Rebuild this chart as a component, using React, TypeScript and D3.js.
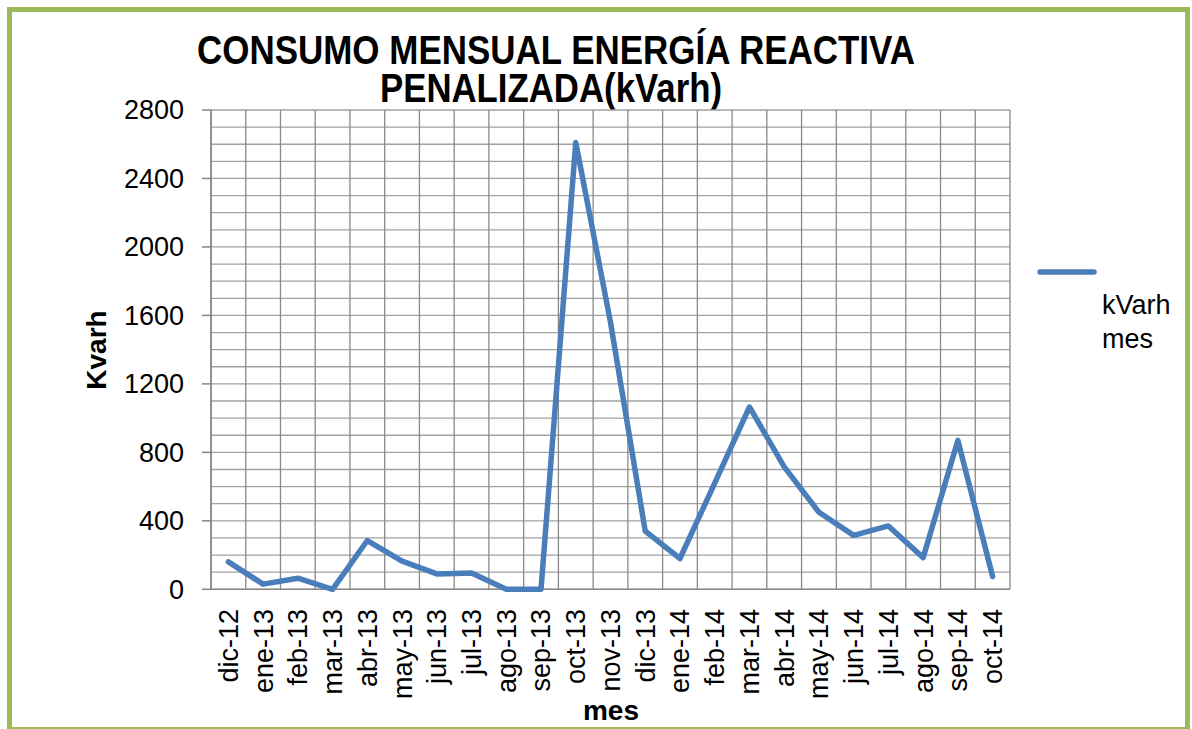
import React from "react";
import * as d3 from "d3";

const months = [
  "dic-12", "ene-13", "feb-13", "mar-13", "abr-13", "may-13", "jun-13", "jul-13",
  "ago-13", "sep-13", "oct-13", "nov-13", "dic-13", "ene-14", "feb-14", "mar-14",
  "abr-14", "may-14", "jun-14", "jul-14", "ago-14", "sep-14", "oct-14",
];
const kvarh = [
  160, 30, 65, 0, 285, 165, 90, 95, 0, 0, 2610, 1560, 340, 180, 620, 1065,
  715, 450, 315, 370, 185, 870, 75,
];
const yTicks = [0, 400, 800, 1200, 1600, 2000, 2400, 2800];
const titleLines = ["CONSUMO MENSUAL ENERGÍA REACTIVA", "PENALIZADA(kVarh)"];
const legendLines = ["kVarh", "mes"];

const FONT = "'Liberation Sans', Arial, Helvetica, sans-serif";

export default function App() {
  const W = 1192;
  const H = 729;
  const left = 211;
  const right = 1010;
  const top = 110;
  const bottom = 589.3;

  const x = d3.scaleBand<string>().domain(months).range([left, right]).padding(0);
  const y = d3.scaleLinear().domain([0, 2800]).range([bottom, top]);
  const cx = (m: string) => (x(m) as number) + x.bandwidth() / 2;

  const minor = d3.range(0, 2801, 100);
  const vlines = d3.range(0, months.length + 1).map((i) => left + i * x.step());

  const line = d3
    .line<number>()
    .x((_, i) => cx(months[i]))
    .y((d) => y(d));

  return (
    <svg
      width={W}
      height={H}
      viewBox={`0 0 ${W} ${H}`}
      style={{ position: "absolute", left: 0, top: 0, background: "#fff" }}
    >
      <rect x={0} y={0} width={W} height={H} fill="#fff" />
      <rect x={9.5} y={9.5} width={1178} height={720} fill="#fff" stroke="#9BBB59" strokeWidth={5} />

      {/* title */}
      <text
        x={556}
        y={63.5}
        textAnchor="middle"
        fontFamily={FONT}
        fontWeight="bold"
        fontSize={40}
        textLength={718}
        lengthAdjust="spacingAndGlyphs"
      >
        {titleLines[0]}
      </text>
      <text
        x={551}
        y={101.5}
        textAnchor="middle"
        fontFamily={FONT}
        fontWeight="bold"
        fontSize={40}
        textLength={342}
        lengthAdjust="spacingAndGlyphs"
      >
        {titleLines[1]}
      </text>

      {/* horizontal grid */}
      {minor.map((v) => (
        <line key={"h" + v} x1={left} x2={right} y1={y(v)} y2={y(v)} stroke="#a2a2a2" strokeWidth={1.3} />
      ))}
      {/* vertical grid */}
      {vlines.map((xv, i) => (
        <line key={"v" + i} x1={xv} x2={xv} y1={top} y2={bottom} stroke="#8a8a8a" strokeWidth={1.3} />
      ))}
      {/* axes */}
      <line x1={left} x2={left} y1={top} y2={bottom} stroke="#868686" strokeWidth={1.5} />
      <line x1={left} x2={right} y1={bottom} y2={bottom} stroke="#868686" strokeWidth={1.5} />
      {yTicks.map((t) => (
        <g key={"t" + t}>
          <line x1={202} x2={left} y1={y(t)} y2={y(t)} stroke="#868686" strokeWidth={1.5} />
          <text x={184} y={y(t)} dy="0.35em" textAnchor="end" fontFamily={FONT} fontSize={27} fill="#000">
            {t}
          </text>
        </g>
      ))}

      {/* x labels */}
      {months.map((m) => (
        <text
          key={m}
          transform={`translate(${cx(m)},609) rotate(-90)`}
          dy="0.35em"
          textAnchor="end"
          fontFamily={FONT}
          fontSize={27}
          fill="#000"
        >
          {m}
        </text>
      ))}

      {/* axis titles */}
      <text x={611} y={720} textAnchor="middle" fontFamily={FONT} fontWeight="bold" fontSize={28}>
        mes
      </text>
      <text
        transform={`translate(106,350) rotate(-90)`}
        textAnchor="middle"
        fontFamily={FONT}
        fontWeight="bold"
        fontSize={28}
      >
        Kvarh
      </text>

      {/* series */}
      <path
        d={line(kvarh) || ""}
        fill="none"
        stroke="#4A7EBB"
        strokeWidth={5.5}
        strokeLinejoin="round"
        strokeLinecap="round"
      />

      {/* legend */}
      <line x1={1040} x2={1094} y1={272} y2={272} stroke="#4A7EBB" strokeWidth={5.5} strokeLinecap="round" />
      <text x={1102} y={314} fontFamily={FONT} fontSize={27}>
        {legendLines[0]}
      </text>
      <text x={1102} y={348} fontFamily={FONT} fontSize={27}>
        {legendLines[1]}
      </text>
    </svg>
  );
}
